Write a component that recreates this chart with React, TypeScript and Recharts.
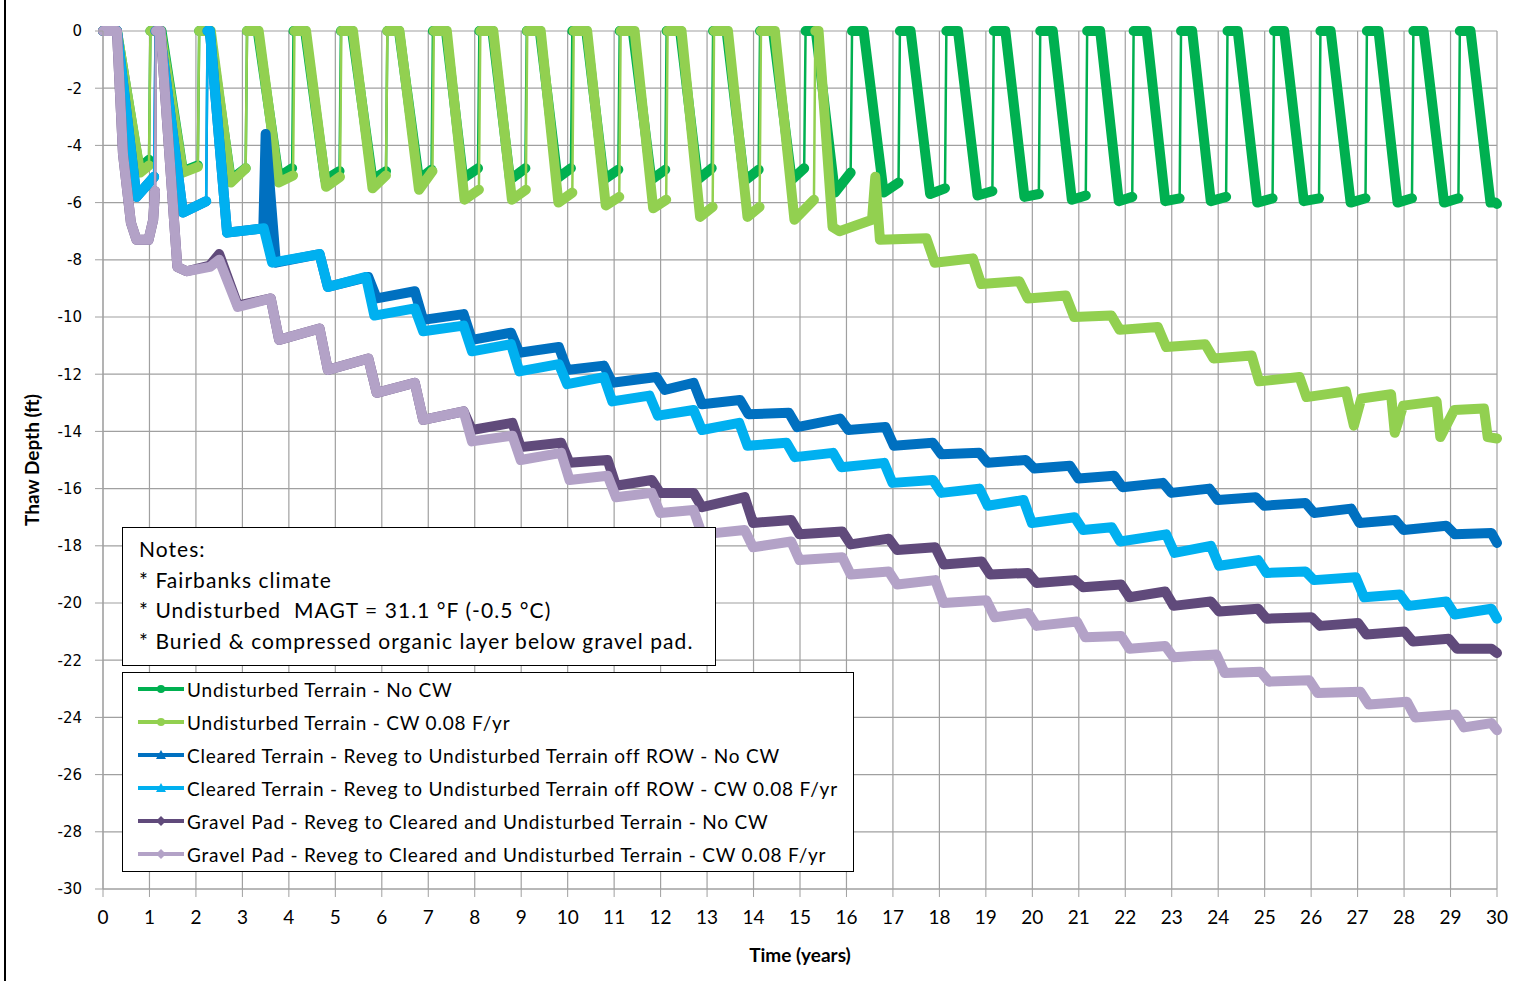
import React from "react";
import { CartesianGrid, Label, Line, LineChart, XAxis, YAxis } from "recharts";

type P = [number, number];
// [top start, thaw starts, max depth reached, max depth, depth at end of plateau]
type Cycle = [number, number, number, number, number];
// [time of step, depth before, depth after]
type Step = [number, number, number];

const xTicks = [0, 1, 2, 3, 4, 5, 6, 7, 8, 9, 10, 11, 12, 13, 14, 15, 16, 17, 18, 19, 20, 21, 22, 23, 24, 25, 26, 27, 28, 29, 30];
const yTicks = [0, -2, -4, -6, -8, -10, -12, -14, -16, -18, -20, -22, -24, -26, -28, -30];

const undisturbedNoCwCycles: Cycle[] = [
  [0, 0.3, 0.78, -4.8, -4.5],
  [1.02, 1.26, 1.72, -4.9, -4.7],
  [2.07, 2.3, 2.75, -5.2, -4.8],
  [3.1, 3.33, 3.78, -5.1, -4.8],
  [4.1, 4.35, 4.78, -5.2, -4.9],
  [5.12, 5.36, 5.8, -5.2, -4.9],
  [6.12, 6.37, 6.8, -5.2, -4.85],
  [7.1, 7.38, 7.75, -5.15, -4.8],
  [8.1, 8.38, 8.76, -5.2, -4.8],
  [9.12, 9.4, 9.78, -5.15, -4.8],
  [10.1, 10.4, 10.78, -5.2, -4.85],
  [11.12, 11.4, 11.8, -5.2, -4.85],
  [12.13, 12.42, 12.8, -5.2, -4.8],
  [13.13, 13.42, 13.8, -5.25, -4.85],
  [14.14, 14.42, 14.82, -5.2, -4.8],
  [15.12, 15.34, 15.75, -5.65, -4.95],
  [16.12, 16.37, 16.8, -5.65, -5.3],
  [17.15, 17.38, 17.8, -5.7, -5.5],
  [18.15, 18.4, 18.82, -5.75, -5.6],
  [19.17, 19.42, 19.83, -5.8, -5.7],
  [20.17, 20.44, 20.85, -5.9, -5.75],
  [21.18, 21.46, 21.86, -5.95, -5.8],
  [22.18, 22.46, 22.86, -5.95, -5.85],
  [23.2, 23.44, 23.84, -5.95, -5.8],
  [24.2, 24.42, 24.84, -6.0, -5.85],
  [25.2, 25.42, 25.84, -5.95, -5.85],
  [26.2, 26.42, 26.85, -6.0, -5.85],
  [27.2, 27.45, 27.86, -6.0, -5.85],
  [28.2, 28.42, 28.86, -6.0, -5.85],
  [29.2, 29.43, 29.86, -6.0, -6.0],
];
const undisturbedNoCwEnd: P[] = [[30, -6.05]];

const undisturbedCwCycles: Cycle[] = [
  [0, 0.3, 0.8, -4.95, -4.7],
  [1.02, 1.24, 1.72, -4.95, -4.75],
  [2.07, 2.32, 2.75, -5.3, -4.8],
  [3.1, 3.35, 3.78, -5.3, -5.05],
  [4.12, 4.37, 4.8, -5.45, -5.1],
  [5.13, 5.38, 5.8, -5.5, -5.05],
  [6.12, 6.38, 6.8, -5.55, -4.9],
  [7.12, 7.4, 7.78, -5.9, -5.55],
  [8.12, 8.4, 8.8, -5.9, -5.55],
  [9.13, 9.42, 9.8, -6.0, -5.65],
  [10.13, 10.42, 10.82, -6.1, -5.8],
  [11.14, 11.44, 11.84, -6.2, -5.9],
  [12.15, 12.45, 12.85, -6.5, -6.15],
  [13.15, 13.45, 13.87, -6.5, -6.15],
  [14.16, 14.46, 14.88, -6.6, -5.9],
];
// after year 15 the active layer no longer refreezes completely
const undisturbedCwTalik: P[] = [
  [15.33, 0], [15.4, 0], [15.7, -6.85], [15.85, -7.0], [16.55, -6.6], [16.62, -5.1], [16.72, -7.3],
  [17.72, -7.25], [17.9, -8.1], [18.72, -7.95], [18.9, -8.85], [19.72, -8.75], [19.9, -9.35],
  [20.72, -9.25], [20.9, -10.0], [21.7, -9.95], [21.88, -10.45], [22.7, -10.35], [22.88, -11.05],
  [23.72, -10.95], [23.9, -11.45], [24.72, -11.35], [24.88, -12.25], [25.75, -12.1], [25.9, -12.8],
  [26.75, -12.6], [26.92, -13.8], [27.08, -12.85], [27.72, -12.7], [27.8, -14.05], [27.98, -13.1],
  [28.7, -12.95], [28.78, -14.2], [29.08, -13.25], [29.72, -13.2], [29.8, -14.2], [30, -14.25],
];

const clearedNoCwStart: P[] = [
  [0, 0], [0.3, 0], [0.72, -5.8], [1.1, -5.1], [1.13, 0], [1.22, 0], [1.72, -6.35], [2.22, -5.95],
  [2.25, 0], [2.3, 0], [2.67, -7.05], [3.45, -6.9], [3.5, -3.6], [3.72, -8.1],
];
const clearedNoCwSteps: Step[] = [
  [4.75, -7.8, -8.95], [5.8, -8.6, -9.35], [6.8, -9.1, -10.1], [7.85, -9.9, -10.8], [8.87, -10.55, -11.25],
  [9.9, -11.05, -11.85], [10.87, -11.7, -12.3], [12.0, -12.1, -12.55], [12.8, -12.3, -13.05],
  [13.8, -12.9, -13.4], [14.85, -13.35, -13.85], [15.95, -13.55, -13.95], [16.93, -13.85, -14.5],
  [17.95, -14.4, -14.8], [18.95, -14.75, -15.1], [19.95, -15.0, -15.3], [20.9, -15.2, -15.65],
  [21.85, -15.55, -15.95], [22.9, -15.8, -16.15], [23.9, -16.0, -16.4], [24.9, -16.3, -16.6],
  [25.97, -16.5, -16.85], [26.95, -16.7, -17.2], [27.9, -17.1, -17.45], [29.0, -17.3, -17.6],
];
const clearedNoCwEnd: P[] = [[29.88, -17.55], [30, -17.9]];

const clearedCwStart: P[] = [
  [0, 0], [0.3, 0], [0.72, -5.8], [1.1, -5.1], [1.13, 0], [1.22, 0], [1.72, -6.35], [2.22, -5.95],
  [2.25, 0], [2.3, 0], [2.67, -7.05],
];
const clearedCwSteps: Step[] = [
  [3.55, -6.9, -8.1], [4.75, -7.8, -8.95], [5.75, -8.6, -9.95], [6.8, -9.7, -10.5], [7.85, -10.3, -11.2],
  [8.87, -10.95, -11.9], [9.9, -11.65, -12.35], [10.87, -12.1, -12.95], [11.85, -12.75, -13.45],
  [12.8, -13.25, -13.95], [13.78, -13.7, -14.5], [14.8, -14.4, -14.9], [15.8, -14.75, -15.25],
  [16.9, -15.1, -15.8], [17.95, -15.7, -16.15], [18.95, -16.0, -16.6], [19.9, -16.4, -17.2],
  [21.0, -17.0, -17.45], [21.8, -17.35, -17.85], [22.97, -17.6, -18.25], [23.93, -18.0, -18.7],
  [24.95, -18.5, -18.95], [25.97, -18.9, -19.2], [27.05, -19.1, -19.8], [28.0, -19.7, -20.1],
  [29.0, -19.95, -20.4],
];
const clearedCwEnd: P[] = [[29.88, -20.2], [30, -20.55]];

const gravelNoCwStart: P[] = [
  [0, 0], [0.3, 0], [0.43, -4.3], [0.6, -6.7], [0.72, -7.3], [0.98, -7.3], [1.08, -6.6], [1.12, -5.6],
  [1.14, 0], [1.24, 0], [1.6, -8.25], [1.8, -8.4], [2.3, -8.2], [2.5, -7.8], [2.9, -9.6],
];
const gravelNoCwSteps: Step[] = [
  [3.7, -9.35, -10.8], [4.75, -10.4, -11.85], [5.8, -11.45, -12.65], [6.8, -12.3, -13.6],
  [7.85, -13.3, -13.95], [8.9, -13.7, -14.55], [9.95, -14.4, -15.1], [10.95, -15.0, -15.9],
  [11.9, -15.7, -16.15], [12.8, -16.15, -16.65], [13.9, -16.3, -17.2], [14.9, -17.1, -17.6],
  [16.0, -17.5, -17.95], [17.0, -17.75, -18.15], [18.0, -18.05, -18.65], [19.0, -18.55, -19.0],
  [20.0, -18.95, -19.3], [21.0, -19.2, -19.45], [22.0, -19.35, -19.8], [22.95, -19.6, -20.1],
  [23.93, -19.95, -20.3], [24.95, -20.2, -20.55], [26.1, -20.5, -20.8], [27.1, -20.7, -21.1],
  [28.1, -21.0, -21.35], [29.05, -21.25, -21.6],
];
const gravelNoCwEnd: P[] = [[29.88, -21.6], [30, -21.75]];

const gravelCwStart: P[] = [
  [0, 0], [0.3, 0], [0.43, -4.3], [0.6, -6.7], [0.72, -7.3], [0.98, -7.3], [1.08, -6.6], [1.12, -5.6],
  [1.14, 0], [1.24, 0], [1.6, -8.25], [1.8, -8.4], [2.3, -8.25], [2.5, -8.0], [2.9, -9.65],
];
const gravelCwSteps: Step[] = [
  [3.7, -9.35, -10.8], [4.75, -10.4, -11.85], [5.8, -11.45, -12.65], [6.8, -12.3, -13.6],
  [7.85, -13.3, -14.35], [8.9, -14.15, -15.0], [9.95, -14.75, -15.7], [10.95, -15.55, -16.3],
  [11.9, -16.15, -16.85], [12.8, -16.75, -17.6], [13.9, -17.45, -18.05], [14.9, -17.85, -18.5],
  [16.0, -18.4, -19.0], [17.0, -18.9, -19.35], [18.0, -19.2, -20.0], [19.1, -19.9, -20.5],
  [20.0, -20.35, -20.8], [21.05, -20.65, -21.2], [22.0, -21.15, -21.6], [22.95, -21.5, -21.9],
  [24.05, -21.8, -22.45], [25.0, -22.4, -22.75], [26.05, -22.7, -23.15], [27.15, -23.1, -23.55],
  [28.15, -23.45, -24.0], [29.2, -23.9, -24.35],
];
const gravelCwEnd: P[] = [[29.88, -24.2], [30, -24.45]];

const seriesNames = [
  "Undisturbed Terrain - No CW",
  "Undisturbed Terrain - CW 0.08 F/yr",
  "Cleared Terrain - Reveg to Undisturbed Terrain off ROW - No CW",
  "Cleared Terrain - Reveg to Undisturbed Terrain off ROW - CW 0.08 F/yr",
  "Gravel Pad - Reveg to Cleared and Undisturbed Terrain - No CW",
  "Gravel Pad - Reveg to Cleared and Undisturbed Terrain - CW 0.08 F/yr",
];
const seriesColors = ["#00B050", "#92D050", "#0070C0", "#00B0F0", "#604A7B", "#B3A2C7"];
const seriesMarkers = ["circle", "circle", "triangle", "triangle", "diamond", "diamond"];

const notes = [
  "Notes:",
  "* Fairbanks climate",
  "* Undisturbed  MAGT = 31.1 °F (-0.5 °C)",
  "* Buried & compressed organic layer below gravel pad.",
];

function fromCycles(cycles: Cycle[], rest: P[]): P[] {
  const pts: P[] = [];
  cycles.forEach(([top0, top1, bottomAt, deep, hook], i) => {
    const next = i + 1 < cycles.length ? cycles[i + 1][0] : rest[0][0];
    pts.push([top0, 0], [top1, 0], [bottomAt, deep], [next - 0.03, hook]);
  });
  return pts.concat(rest);
}

function fromSteps(start: P[], steps: Step[], end: P[]): P[] {
  const pts: P[] = [...start];
  steps.forEach(([t, before, after]) => pts.push([t - 0.09, before], [t + 0.09, after]));
  return pts.concat(end);
}

// thin line everywhere, thick (marker-covered) line except on the refreeze jumps
function layers(pts: P[]) {
  const thin = pts.map(([t, d]) => ({ t, d }));
  const thick: { t: number; d: number | null }[] = [];
  pts.forEach(([t, d], i) => {
    if (i > 0 && d - pts[i - 1][1] > 4) thick.push({ t: (t + pts[i - 1][0]) / 2, d: null });
    thick.push({ t, d });
  });
  return { thin, thick };
}

const allSeries = [
  fromCycles(undisturbedNoCwCycles, undisturbedNoCwEnd),
  fromCycles(undisturbedCwCycles, undisturbedCwTalik),
  fromSteps(clearedNoCwStart, clearedNoCwSteps, clearedNoCwEnd),
  fromSteps(clearedCwStart, clearedCwSteps, clearedCwEnd),
  fromSteps(gravelNoCwStart, gravelNoCwSteps, gravelNoCwEnd),
  fromSteps(gravelCwStart, gravelCwSteps, gravelCwEnd),
].map(layers);

const textFont = "Lato, 'Open Sans', sans-serif";

const Marker = ({ kind, color }: { kind: string; color: string }) => {
  if (kind === "circle") return <circle cx={24} cy={8} r={4} fill={color} />;
  if (kind === "triangle") return <polygon points="24,3 29,12 19,12" fill={color} />;
  return <polygon points="24,3 29,8 24,13 19,8" fill={color} />;
};

const LegendBox = () => (
  <div
    style={{
      position: "absolute",
      left: 122,
      top: 672,
      width: 730,
      height: 198,
      border: "1px solid #000",
      background: "#fff",
      fontFamily: textFont,
      fontSize: 19,
      letterSpacing: 0.8,
    }}
  >
    {seriesNames.map((name, i) => (
      <div
        key={name}
        style={{ position: "absolute", left: 14, top: 4 + i * 33, height: 24, display: "flex", alignItems: "center", whiteSpace: "nowrap" }}
      >
        <svg width={48} height={16} style={{ marginRight: 2 }}>
          <line x1={1} y1={8} x2={47} y2={8} stroke={seriesColors[i]} strokeWidth={4} />
          <Marker kind={seriesMarkers[i]} color={seriesColors[i]} />
        </svg>
        <span>{name}</span>
      </div>
    ))}
  </div>
);

const NotesBox = () => (
  <div
    style={{
      position: "absolute",
      left: 122,
      top: 527,
      width: 592,
      height: 137,
      border: "1px solid #000",
      background: "#fff",
      fontFamily: textFont,
      fontSize: 21,
      letterSpacing: 1.05,
    }}
  >
    {notes.map((line, i) => (
      <div key={line} style={{ position: "absolute", left: 16, top: 8 + i * 30.7, whiteSpace: "pre" }}>
        {line}
      </div>
    ))}
  </div>
);

export default function App() {
  return (
    <div style={{ position: "relative", width: 1531, height: 981, background: "#fff", overflow: "hidden" }}>
      <style>{"body{margin:0}"}</style>
      <div style={{ position: "absolute", left: 4, top: 0, width: 2, height: 981, background: "#000" }} />
      <LineChart width={1531} height={981} margin={{ top: 31, right: 34, bottom: 12, left: 13 }}>
        <CartesianGrid stroke="#A0A0A0" strokeWidth={1.2} />
        <XAxis
          type="number"
          dataKey="t"
          domain={[0, 30]}
          ticks={xTicks}
          interval={0}
          height={80}
          tickSize={8}
          tickMargin={14}
          stroke="#A0A0A0"
          tick={{ fill: "#000", fontSize: 19, fontFamily: textFont }}
        >
          <Label
            value="Time (years)"
            position="insideBottom"
            offset={7}
            style={{ fontFamily: textFont, fontWeight: 700, fontSize: 19, fill: "#000" }}
          />
        </XAxis>
        <YAxis
          type="number"
          domain={[-30, 0]}
          ticks={yTicks}
          interval={0}
          width={90}
          tickSize={8}
          tickMargin={13}
          stroke="#A0A0A0"
          tick={{ fill: "#000", fontSize: 15, fontFamily: "'DejaVu Sans', Verdana, sans-serif" }}
        >
          <Label
            value="Thaw Depth (ft)"
            angle={-90}
            position="insideLeft"
            offset={19}
            style={{ fontFamily: textFont, fontWeight: 700, fontSize: 19, fill: "#000", textAnchor: "middle" }}
          />
        </YAxis>
        {allSeries.map((s, i) => [
          <Line
            key={`thin-${i}`}
            data={s.thin}
            dataKey="d"
            type="linear"
            stroke={seriesColors[i]}
            strokeWidth={2.5}
            dot={false}
            activeDot={false}
            legendType="none"
            isAnimationActive={false}
          />,
          <Line
            key={`thick-${i}`}
            data={s.thick}
            dataKey="d"
            type="linear"
            stroke={seriesColors[i]}
            strokeWidth={10}
            strokeLinejoin="round"
            strokeLinecap="round"
            dot={false}
            activeDot={false}
            legendType="none"
            isAnimationActive={false}
          />,
        ])}
      </LineChart>
      <NotesBox />
      <LegendBox />
    </div>
  );
}
